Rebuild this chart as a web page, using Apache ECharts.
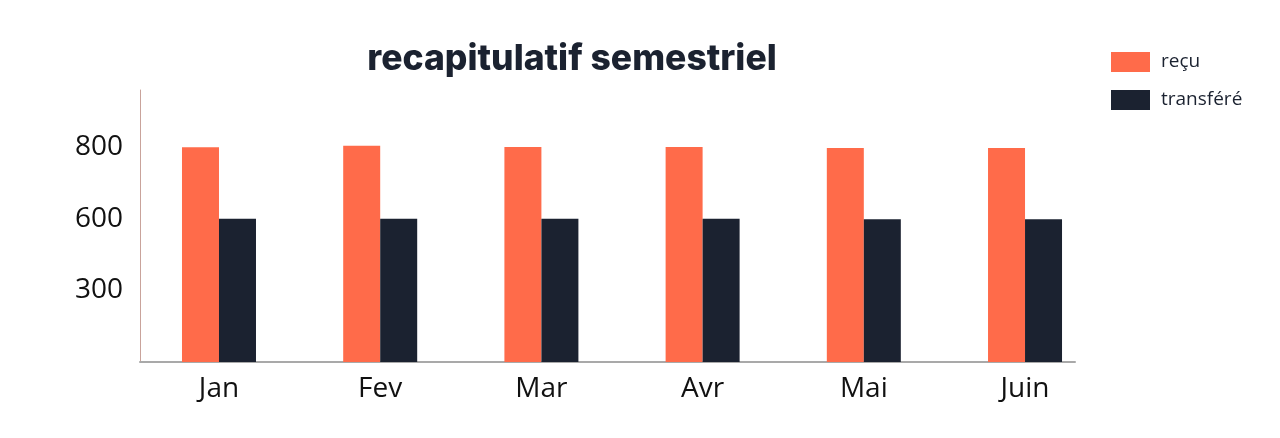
<!DOCTYPE html>
<html>
<head>
<meta charset="utf-8">
<script src="https://cdn.jsdelivr.net/npm/echarts@6/dist/echarts.min.js"></script>
<style>
html,body{margin:0;padding:0;background:#fff;}
#chart{width:1280px;height:438px;}
</style>
</head>
<body>
<div id="chart"></div>
<script>
const categories = ['Jan', 'Fev', 'Mar', 'Avr', 'Mai', 'Juin'];
const recu = [800, 804, 801, 801, 798, 798];
const transfere = [600, 600, 600, 600, 598, 598];
const tickValues = [0, 300, 600, 800];
const tickLabels = ['', '300', '600', '800'];

// The reference y axis places its tick labels evenly; map values onto that scale.
function toLevel(v) {
  for (let i = 1; i < tickValues.length; i++) {
    if (v <= tickValues[i] || i === tickValues.length - 1) {
      const a = tickValues[i - 1], b = tickValues[i];
      return (i - 1) + (v - a) / (b - a);
    }
  }
  return 0;
}

const chart = echarts.init(document.getElementById('chart'));
const catIdx = categories.map((c, i) => i);
chart.setOption({
  animation: false,
  title: {
    text: 'recapitulatif semestriel',
    left: 567, top: 36, textAlign: 'center',
    textStyle: { fontFamily: 'Inter', fontWeight: 800, fontSize: 35.5, color: '#1b2230' }
  },
  legend: {
    orient: 'vertical', left: 1106, top: 47,
    itemWidth: 39, itemHeight: 20, itemGap: 18,
    icon: 'rect',
    textStyle: { fontFamily: 'Open Sans', fontSize: 19, color: '#1b2230', padding: [0, 0, 0, 6] },
    data: ['reçu', 'transféré']
  },
  grid: { left: 140, right: 205, top: 90, bottom: 76 },
  xAxis: {
    type: 'value', min: -0.49, max: 5.31,
    splitLine: { show: false },
    axisLine: { show: true, onZero: false, lineStyle: { color: '#a9a9a9', width: 2 } },
    axisTick: { show: false },
    axisLabel: {
      customValues: catIdx,
      formatter: v => categories[Math.round(v)] || '',
      fontFamily: 'Open Sans', fontSize: 28, color: '#111', margin: 13
    }
  },
  yAxis: {
    type: 'value', min: 0, max: 3.8,
    splitLine: { show: false },
    axisLine: { show: true, onZero: false, lineStyle: { color: '#c9a39b', width: 1 } },
    axisTick: { show: false },
    axisLabel: {
      customValues: [1, 2, 3],
      formatter: v => tickLabels[Math.round(v)] || '',
      fontFamily: 'Open Sans', fontSize: 28, color: '#111', margin: 17
    }
  },
  series: [
    {
      name: 'reçu', type: 'bar', barWidth: 37, barGap: '0%',
      itemStyle: { color: '#ff6b4a' },
      data: recu.map((v, i) => [catIdx[i], toLevel(v)])
    },
    {
      name: 'transféré', type: 'bar', barWidth: 37, barGap: '0%',
      itemStyle: { color: '#1b2230' },
      data: transfere.map((v, i) => [catIdx[i], toLevel(v)])
    }
  ]
});
</script>
</body>
</html>
